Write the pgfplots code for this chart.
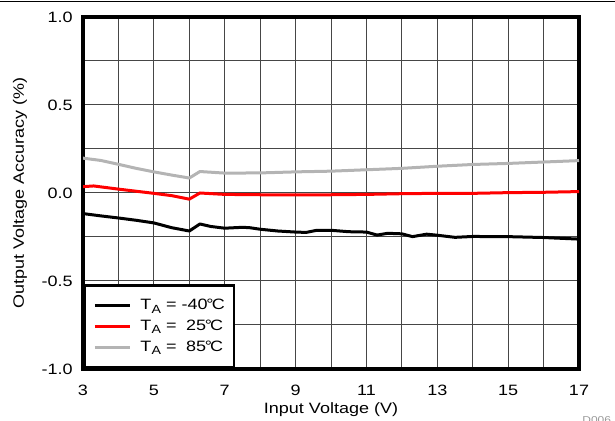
\documentclass[border=0pt]{standalone}
\usepackage{fontspec}
\setmainfont{Liberation Sans}[FakeStretch=1.2]
\usepackage{pgfplots}
\pgfplotsset{compat=1.18}
\definecolor{lgray}{RGB}{180,180,180}
\definecolor{gridc}{RGB}{70,70,70}
\newcommand{\TA}{T\kern0.2pt\raisebox{-1.8pt}{\fontsize{5.9pt}{6pt}\selectfont A}}
\begin{document}
\fontsize{7.5pt}{9pt}\selectfont
\begin{tikzpicture}
\path[use as bounding box] (0,0) rectangle (307.5pt,210.5pt);
\draw[line width=0.6pt] (0,209.8pt) -- (307.5pt,209.8pt);
\begin{axis}[
  at={(41.5pt,26pt)}, anchor=south west,
  scale only axis, width=248pt, height=176pt,
  xmin=3, xmax=17, ymin=-1, ymax=1,
  xtick={3,5,...,17}, minor xtick={4,6,...,16},
  ytick={-1,-0.5,0,0.5,1}, minor ytick={-0.75,-0.25,0.25,0.75},
  grid=both,
  major grid style={gridc, line width=0.5pt},
  minor grid style={gridc, line width=0.5pt},
  major tick length=0pt, minor tick length=0pt,
  axis line style={line width=1.6pt},
  /pgf/number format/assume math mode=true,
  y tick label style={/pgf/number format/fixed, /pgf/number format/fixed zerofill, /pgf/number format/precision=1, anchor=east, inner sep=0pt, xshift=-5pt},
  x tick label style={anchor=north, inner sep=0pt, yshift=-8pt},
  xlabel={Input Voltage (V)},
  ylabel={Output Voltage Accuracy (\%)},
  xlabel style={at={(axis description cs:0.5,-0.116)}, anchor=center, inner sep=0pt},
  ylabel style={at={(axis description cs:-0.127,0.5)}, anchor=center, inner sep=0pt},
  legend style={at={(axis description cs:0,0)}, anchor=south west, draw=black, line width=1.25pt, fill=white, inner xsep=4.5pt, inner ysep=6.3pt, row sep=2.8pt, column sep=4.5pt, nodes={inner sep=0pt, text height=5.6pt, text depth=2pt, anchor=west}},
  legend cell align=left,
  legend image code/.code={\draw[#1, line width=1.5pt] (0pt,0pt) -- (17.5pt,0pt);},
]
\addplot[black, line width=1.5pt, line join=round] coordinates {
(3,-0.117) (3.5,-0.13) (4,-0.142) (4.5,-0.155) (5,-0.17) (5.5,-0.197) (6,-0.216)
(6.3,-0.176) (6.6,-0.19) (7,-0.2) (7.5,-0.195) (7.7,-0.197) (8,-0.206) (8.5,-0.216)
(9,-0.222) (9.3,-0.224) (9.6,-0.212) (10,-0.212) (10.5,-0.22) (11,-0.222) (11.3,-0.239)
(11.6,-0.229) (12,-0.232) (12.3,-0.248) (12.7,-0.234) (13,-0.24) (13.5,-0.252)
(14,-0.247) (15,-0.248) (16,-0.253) (17,-0.262)};
\addlegendentry{\TA{} = -40\kern-0.6pt°\kern-0.9pt C}
\addplot[red, line width=1.5pt, line join=round] coordinates {
(3,0.036) (3.3,0.04) (4,0.022) (4.5,0.01) (5,-0.002) (5.5,-0.015) (6,-0.035)
(6.3,0.0) (7,-0.008) (8,-0.01) (9,-0.01) (10,-0.01) (11,-0.008) (12,-0.004)
(13,-0.002) (14,-0.002) (15,0.002) (16,0.004) (17,0.008)};
\addlegendentry{\TA{} =\ \kern2.2pt 25\kern-0.6pt°\kern-0.9pt C}
\addplot[lgray, line width=1.5pt, line join=round] coordinates {
(3,0.198) (3.5,0.185) (4,0.163) (4.5,0.14) (5,0.12) (5.5,0.102) (6,0.085)
(6.3,0.122) (7,0.113) (8,0.114) (9,0.12) (10,0.124) (11,0.132) (12,0.14)
(13,0.152) (14,0.162) (15,0.168) (16,0.176) (17,0.184)};
\addlegendentry{\TA{} =\ \kern2.2pt 85\kern-0.6pt°\kern-0.9pt C}
\end{axis}
\node[anchor=north west, inner sep=0pt, text=black!40, font=\fontsize{5}{6}\selectfont] at (291pt,2.5pt) {D006};
\end{tikzpicture}
\end{document}
